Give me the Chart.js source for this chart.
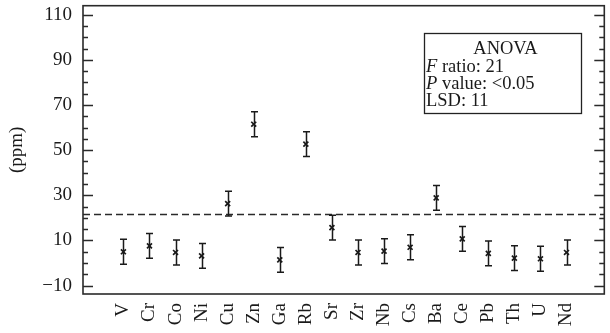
<!DOCTYPE html>
<html>
<head>
<meta charset="utf-8">
<script src="https://cdn.jsdelivr.net/npm/chart.js@4.4.1/dist/chart.umd.min.js"></script>
<style>
  html, body { margin: 0; padding: 0; background: #ffffff; }
  #wrap { width: 610px; height: 333px; }
</style>
</head>
<body>
<div id="wrap"><canvas id="c" width="610" height="333"></canvas></div>
<script>
// ---- data ----
const categories = ['V','Cr','Co','Ni','Cu','Zn','Ga','Rb','Sr','Zr','Nb','Cs','Ba','Ce','Pb','Th','U','Nd'];
const means      = [5.0, 7.6, 4.7, 3.2, 26.3, 61.5, 1.4, 52.7, 15.7, 4.7, 5.3, 7.0, 28.9, 10.7, 4.3, 2.2, 1.9, 4.7];
const errors     = [5.5, 5.5, 5.5, 5.5, 5.5, 5.5, 5.5, 5.5, 5.5, 5.5, 5.5, 5.5, 5.5, 5.5, 5.5, 5.5, 5.5, 5.5];
const lsdLevel   = 21.5;
const yTickValues = [-10, 10, 30, 50, 70, 90, 110];
const annotationLines = [
  { italic: '', text: 'ANOVA', center: true },
  { italic: 'F', text: ' ratio: 21' },
  { italic: 'P', text: ' value: <0.05' },
  { italic: '', text: 'LSD: 11' }
];

const FONT = "'Liberation Serif', 'DejaVu Serif', serif";
const INK = '#1a1a1a';

const points = means.map((m, i) => ({ x: i + 1, y: m }));

const framePlugin = {
  id: 'frame',
  afterDraw(chart) {
    const ctx = chart.ctx;
    const a = chart.chartArea;
    const ys = chart.scales.y;
    ctx.save();
    ctx.strokeStyle = '#2a2a2a';
    ctx.lineWidth = 1.6;
    ctx.strokeRect(a.left, a.top, a.right - a.left, a.bottom - a.top);
    ctx.lineWidth = 1.4;
    for (let v = -10; v <= 110; v += 5) {
      const y = Math.round(ys.getPixelForValue(v)) + 0.5;
      const len = ((v + 10) % 20 === 0) ? 10 : 5;
      ctx.beginPath();
      ctx.moveTo(a.left, y); ctx.lineTo(a.left + len, y);
      ctx.moveTo(a.right, y); ctx.lineTo(a.right - len, y);
      ctx.stroke();
    }
    ctx.restore();

    // annotation box
    ctx.save();
    const bx = 424, by = 33, bw = 157, bh = 80;
    ctx.strokeStyle = '#222';
    ctx.lineWidth = 1.3;
    ctx.strokeRect(bx + 0.5, by + 0.5, bw, bh);
    ctx.fillStyle = INK;
    ctx.textBaseline = 'alphabetic';
    try { ctx.wordSpacing = '5px'; } catch (e) {}
    const baselines = [54, 71.5, 88.5, 106];
    annotationLines.forEach((ln, i) => {
      const size = 18.5;
      let x = bx + 2;
      if (ln.center) {
        ctx.font = size + 'px ' + FONT;
        const w = ctx.measureText(ln.text).width;
        ctx.fillText(ln.text, bx + bw / 2 - w / 2 + 3, baselines[i]);
        return;
      }
      if (ln.italic) {
        ctx.font = 'italic ' + size + 'px ' + FONT;
        ctx.fillText(ln.italic, x, baselines[i]);
        x += ctx.measureText(ln.italic).width;
      }
      ctx.font = size + 'px ' + FONT;
      ctx.fillText(ln.text, x, baselines[i]);
    });
    ctx.restore();
  },
  beforeDatasetsDraw(chart) {
    const ctx = chart.ctx;
    const a = chart.chartArea;
    const y = chart.scales.y.getPixelForValue(lsdLevel);
    ctx.save();
    ctx.strokeStyle = '#2a2a2a';
    ctx.lineWidth = 1.4;
    ctx.setLineDash([7, 4]);
    ctx.beginPath();
    ctx.moveTo(a.left, y); ctx.lineTo(a.right, y);
    ctx.stroke();
    ctx.restore();
  },
  afterDatasetsDraw(chart) {
    const ctx = chart.ctx;
    const xs = chart.scales.x, ys = chart.scales.y;
    ctx.save();
    ctx.strokeStyle = INK;
    ctx.lineWidth = 1.5;
    means.forEach((m, i) => {
      const x = Math.round(xs.getPixelForValue(i + 1)) + 0.5;
      const yt = ys.getPixelForValue(m + errors[i]);
      const yb = ys.getPixelForValue(m - errors[i]);
      ctx.beginPath();
      ctx.moveTo(x, yt); ctx.lineTo(x, yb);
      ctx.moveTo(x - 3.5, yt); ctx.lineTo(x + 3.5, yt);
      ctx.moveTo(x - 3.5, yb); ctx.lineTo(x + 3.5, yb);
      ctx.stroke();
    });
    ctx.restore();
  }
};

new Chart(document.getElementById('c'), {
  type: 'scatter',
  data: {
    datasets: [{
      data: points,
      pointStyle: 'crossRot',
      pointRadius: 3.5,
      pointBorderWidth: 1.7,
      borderColor: INK,
      backgroundColor: INK,
      showLine: false
    }]
  },
  options: {
    responsive: false,
    animation: false,
    events: [],
    layout: { padding: { top: 5, right: 1, left: 0, bottom: 0 } },
    plugins: { legend: { display: false }, tooltip: { enabled: false } },
    scales: {
      x: {
        type: 'linear',
        min: -0.55,
        max: 19.45,
        grid: { display: false, drawTicks: false },
        border: { display: false },
        afterBuildTicks(scale) {
          scale.ticks = categories.map((c, i) => ({ value: i + 1 }));
        },
        afterFit(scale) {
          scale.height = 39;
          scale.paddingLeft = 0; scale.paddingRight = 0;
        },
        ticks: {
          autoSkip: false,
          minRotation: 90,
          maxRotation: 90,
          padding: 9,
          color: INK,
          font: { family: FONT, size: 19 },
          callback: (v) => categories[v - 1]
        }
      },
      y: {
        min: -13.7,
        max: 114,
        grid: { display: false, drawTicks: false },
        border: { display: false },
        afterBuildTicks(scale) {
          scale.ticks = yTickValues.map(v => ({ value: v }));
        },
        afterFit(scale) {
          scale.width = 83;
          scale.paddingTop = 0; scale.paddingBottom = 0;
        },
        ticks: {
          padding: 11,
          color: INK,
          font: { family: FONT, size: 19 },
          callback: (v) => v < 0 ? '\u2212' + Math.abs(v) : String(v)
        },
        title: {
          display: true,
          text: '(ppm)',
          color: INK,
          font: { family: FONT, size: 19 },
          padding: { top: 6, bottom: 0 }
        }
      }
    }
  },
  plugins: [framePlugin]
});
</script>
</body>
</html>
